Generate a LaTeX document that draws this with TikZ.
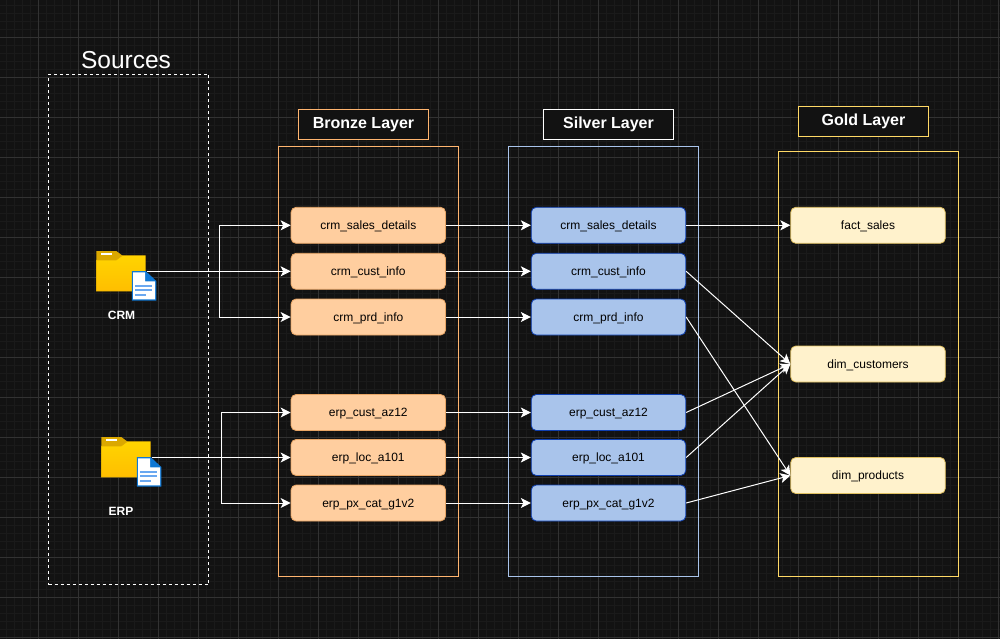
\documentclass[tikz,border=0pt]{standalone}
\usepackage{fontspec}
\setmainfont{Liberation Sans}
\usetikzlibrary{arrows.meta}
\definecolor{bgc}{HTML}{121212}
\definecolor{gridminor}{HTML}{1A1A1A}
\definecolor{gridmajor}{HTML}{323232}
\definecolor{bronzeline}{HTML}{FFB570}
\definecolor{bronzeedge}{HTML}{E8A565}
\definecolor{bronzefill}{HTML}{FFCE9F}
\definecolor{silverline}{HTML}{A9C4EB}
\definecolor{silverfill}{HTML}{A9C4EB}
\definecolor{silveredge}{HTML}{0F3FB0}
\definecolor{goldline}{HTML}{FFD966}
\definecolor{goldfill}{HTML}{FFF2CC}
\definecolor{goldedge}{HTML}{E0C060}
\definecolor{folderfront}{HTML}{FFD400}
\definecolor{folderfrontb}{HTML}{FFBE00}
\definecolor{foldertab}{HTML}{DBA800}
\definecolor{docblue}{HTML}{0F78D4}
\definecolor{doclines}{HTML}{6AA8F0}
\tikzset{
  x=1pt,y=-1pt,
  layerbox/.style={draw,line width=0.8pt,fill=none},
  titlebox/.style={draw,line width=0.8pt,fill=bgc,text=white,font=\fontsize{16}{18}\selectfont\bfseries,minimum width=130pt,minimum height=30pt,inner sep=0pt},
  tablebox/.style={rounded corners=5pt,line width=0.8pt,text=black,font=\fontsize{12}{14}\selectfont,minimum width=154.5pt,minimum height=36pt,inner sep=0pt,text height=9.6pt,text depth=1pt},
  bronzebox/.style={tablebox,draw=bronzeedge,fill=bronzefill},
  silverbox/.style={tablebox,draw=silveredge,fill=silverfill},
  goldbox/.style={tablebox,draw=goldedge,fill=goldfill},
  flow/.style={draw=white,line width=1pt,-{Stealth[length=10pt,width=10pt,inset=2.5pt]}},
  srclabel/.style={text=white,font=\fontsize{12}{14}\selectfont\bfseries,inner sep=0pt},
  iconbox/.style={minimum width=60pt,minimum height=49.5pt,inner sep=0pt},
  pics/foldericon/.style={code={
    \fill[foldertab] (0,0) -- (20,0) -- (26,4.5) -- (26,9) -- (0,9) -- cycle;
    \fill[white] (4.5,2) rectangle (16,4);
    \shade[top color=folderfront,bottom color=folderfrontb] (0,9) -- (20,9) -- (26,4.5) -- (49,4.5) -- (49,40) -- (0,40) -- cycle;
    \draw[foldertab,line width=0.5pt] (0,9) -- (20,9) -- (26,4.5) -- (49,4.5) -- (49,40) -- (0,40) -- cycle;
    \fill[docblue] (35.5,20) -- (49.3,20) -- (60,30) -- (60,49.7) -- (35.5,49.7) -- cycle;
    \fill[white] (36.8,21.3) -- (48.7,21.3) -- (48.7,30.3) -- (58.7,30.3) -- (58.7,48.4) -- (36.8,48.4) -- cycle;
    \fill[doclines] (39,34) rectangle (56,36);
    \fill[doclines] (39,38.3) rectangle (56,40.3);
    \fill[doclines] (39,42.6) rectangle (50,44.6);
  }}
}
\begin{document}
\begin{tikzpicture}
\useasboundingbox (0,0) rectangle (1000,639);
\fill[bgc] (0,0) rectangle (1000,639);
% grid
\foreach \k in {0,...,125} {\draw[gridminor,line width=0.7pt] ({6.5+8*\k},0) -- ({6.5+8*\k},639);}
\foreach \k in {0,...,80} {\draw[gridminor,line width=0.7pt] (0,{5.5+8*\k}) -- (1000,{5.5+8*\k});}
\foreach \k in {0,...,24} {\draw[gridmajor,line width=1pt] ({38.5+40*\k},0) -- ({38.5+40*\k},639);}
\foreach \k in {0,...,15} {\draw[gridmajor,line width=1pt] (0,{37.5+40*\k}) -- (1000,{37.5+40*\k});}
% containers
\node[draw=white,dashed,line width=0.8pt,minimum width=160pt,minimum height=510pt,inner sep=0pt] (sources) at (128.5,329.5) {};
\node[text=white,font=\fontsize{24.5}{28}\selectfont,inner sep=0pt] (sourcestitle) at (126,60.5) {Sources};
\node[layerbox,draw=bronzeline,minimum width=180pt,minimum height=430pt,inner sep=0pt] (bronze) at (368.5,361.5) {};
\node[layerbox,draw=silverline,minimum width=190pt,minimum height=430pt,inner sep=0pt] (silver) at (603.5,361.5) {};
\node[layerbox,draw=goldline,minimum width=180pt,minimum height=425pt,inner sep=0pt] (gold) at (868.5,364) {};
\node[titlebox,draw=bronzeline] (bronzetitle) at (363.5,124.5) {Bronze Layer};
\node[titlebox,draw=white] (silvertitle) at (608.5,124.5) {Silver Layer};
\node[titlebox,draw=goldline] (goldtitle) at (863.5,121.5) {Gold Layer};
% icons
\pic at (96.3,251) {foldericon};
\pic at (101.3,437) {foldericon};
\node[iconbox] (crmicon) at (126.3,275.8) {};
\node[iconbox] (erpicon) at (131.3,461.8) {};
\node[srclabel] (crmlabel) at (121.5,315.5) {CRM};
\node[srclabel] (erplabel) at (121,511.5) {ERP};
% tables
\node[bronzebox] (b1) at (368.3,225.3) {crm\_sales\_details};
\node[bronzebox] (b2) at (368.3,271.3) {crm\_cust\_info};
\node[bronzebox] (b3) at (368.3,317) {crm\_prd\_info};
\node[bronzebox] (b4) at (368.3,412.5) {erp\_cust\_az12};
\node[bronzebox] (b5) at (368.3,457.5) {erp\_loc\_a101};
\node[bronzebox] (b6) at (368.3,503) {erp\_px\_cat\_g1v2};
\node[silverbox] (s1) at (608.5,225.3) {crm\_sales\_details};
\node[silverbox] (s2) at (608.5,271.3) {crm\_cust\_info};
\node[silverbox] (s3) at (608.5,317) {crm\_prd\_info};
\node[silverbox] (s4) at (608.5,412.5) {erp\_cust\_az12};
\node[silverbox] (s5) at (608.5,457.5) {erp\_loc\_a101};
\node[silverbox] (s6) at (608.5,503) {erp\_px\_cat\_g1v2};
\node[goldbox] (g1) at (868,225.3) {fact\_sales};
\node[goldbox] (g2) at (868,364) {dim\_customers};
\node[goldbox] (g3) at (868,475.5) {dim\_products};
% connector ends
\coordinate (crmout) at ([xshift=-10pt]crmicon.east |- b2.west);
\coordinate (erpout) at ([xshift=-10pt]erpicon.east |- b5.west);
\coordinate (crmbus) at (219,0);
\coordinate (erpbus) at (221.5,0);
% source connectors
\draw[flow] (crmout) -- (b2.west);
\draw[flow] (crmbus |- b2.west) |- (b1.west);
\draw[flow] (crmbus |- b2.west) |- (b3.west);
\draw[flow] (erpout) -- (b5.west);
\draw[flow] (erpbus |- b5.west) |- (b4.west);
\draw[flow] (erpbus |- b5.west) |- (b6.west);
% bronze to silver
\foreach \i in {1,...,6} {\draw[flow] (b\i.east) -- (s\i.west);}
% silver to gold
\draw[flow] (s1.east) -- (g1.west);
\draw[flow] (s2.east) -- (g2.west);
\draw[flow] (s3.east) -- (g3.west);
\draw[flow] (s4.east) -- (g2.west);
\draw[flow] (s5.east) -- (g2.west);
\draw[flow] (s6.east) -- (g3.west);
\end{tikzpicture}
\end{document}
